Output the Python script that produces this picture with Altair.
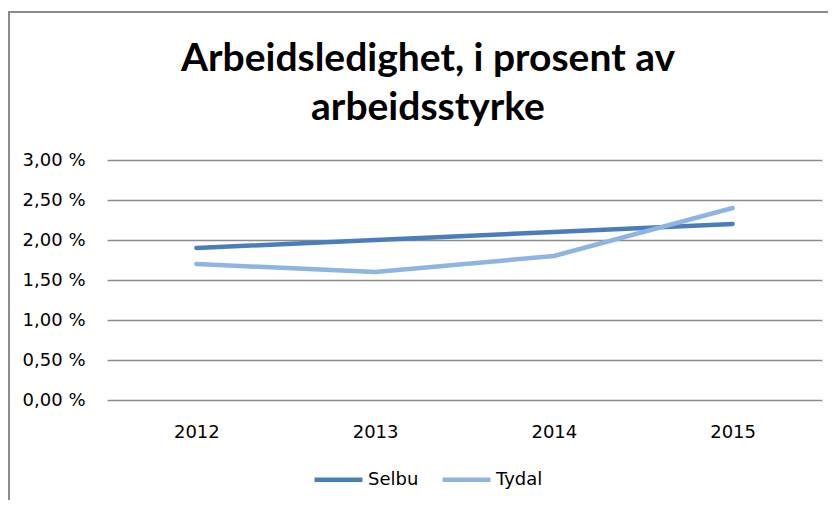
import altair as alt
import pandas as pd

years = ["2012", "2013", "2014", "2015"]
selbu = [1.9, 2.0, 2.1, 2.2]
tydal = [1.7, 1.6, 1.8, 2.4]
series_names = ["Selbu", "Tydal"]
series_colors = ["#4A7EBB", "#8DB4E2"]
title_lines = ["Arbeidsledighet, i prosent av", "arbeidsstyrke"]
y_ticks = [0, 0.5, 1.0, 1.5, 2.0, 2.5, 3.0]

rows = []
for name, vals in zip(series_names, [selbu, tydal]):
    for yr, v in zip(years, vals):
        rows.append({"year": yr, "value": v, "series": name})
df = pd.DataFrame(rows)

W, H = 715, 240
PAD = {"left": 99, "top": 152, "right": 6, "bottom": 100}
FONT = "DejaVu Sans"

lines = alt.Chart(df).mark_line(strokeWidth=4.5, strokeCap="round", strokeJoin="round").encode(
    x=alt.X("year:N", scale=alt.Scale(type="point", padding=0.5),
            axis=alt.Axis(title=None, domain=False, ticks=False, labelAngle=0,
                          labelFont=FONT, labelFontSize=18, labelColor="#000000",
                          labelPadding=23, grid=False)),
    y=alt.Y("value:Q", scale=alt.Scale(domain=[0, 3], nice=False),
            axis=alt.Axis(title=None, values=y_ticks, domain=False, ticks=False,
                          labelExpr="replace(format(datum.value, '.2f'), '.', ',') + ' %'",
                          labelFont=FONT, labelFontSize=18, labelColor="#000000",
                          labelPadding=22, grid=True, gridColor="#8C8C8C", gridWidth=1.6)),
    color=alt.Color("series:N", scale=alt.Scale(domain=series_names, range=series_colors),
                    legend=alt.Legend(title=None, orient="none", direction="horizontal",
                                      legendX=205, legendY=293, symbolType="stroke",
                                      symbolStrokeWidth=4.5, symbolSize=2300,
                                      labelFont=FONT, labelFontSize=18, labelColor="#000000",
                                      labelOffset=3, columnPadding=14, padding=0)),
)

title1 = alt.Chart(pd.DataFrame({"t": [title_lines[0]]})).mark_text(
    font="Lato", fontSize=39, fontWeight="bold", color="#000000", align="center", baseline="alphabetic"
).encode(text="t:N", x=alt.value(321), y=alt.value(-89))
title2 = alt.Chart(pd.DataFrame({"t": [title_lines[1]]})).mark_text(
    font="Lato", fontSize=39, fontWeight="bold", color="#000000", align="center", baseline="alphabetic"
).encode(text="t:N", x=alt.value(321), y=alt.value(-40))

border = alt.Chart(pd.DataFrame({"k": [0]})).mark_rule(color="#8C8C8C", strokeWidth=2).encode(
    x=alt.value(-98), y=alt.value(-148), y2=alt.value(H + PAD["bottom"]))
border_top = alt.Chart(pd.DataFrame({"k": [0]})).mark_rule(color="#8C8C8C", strokeWidth=2).encode(
    x=alt.value(-99), x2=alt.value(W + PAD["right"]), y=alt.value(-148))

chart = alt.layer(border, border_top, title1, title2, lines).properties(
    width=W, height=H,
    autosize=alt.AutoSizeParams(type="none"),
    padding=PAD,
).configure_view(stroke=None)

chart.save("out.html", embed_options={"renderer": "svg", "actions": False})
